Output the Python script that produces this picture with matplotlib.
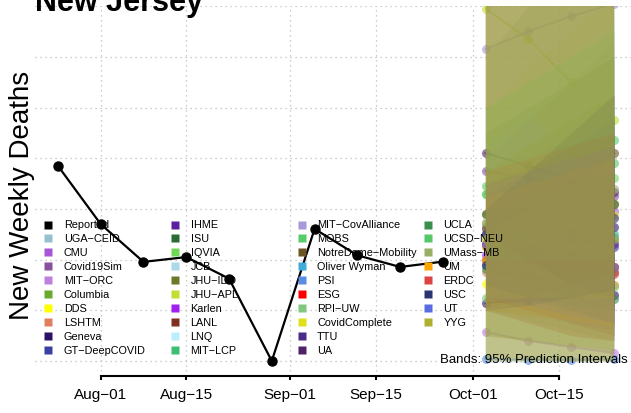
import matplotlib
matplotlib.use('Agg')
import matplotlib.pyplot as plt
import matplotlib.dates as mdates
from matplotlib.lines import Line2D
import numpy as np
import datetime as dt

plt.rcParams['font.family'] = ['Liberation Sans', 'DejaVu Sans']

# ---------------- data ----------------
reported_dates = ['2020-07-25', '2020-08-01', '2020-08-08', '2020-08-15', '2020-08-22',
                  '2020-08-29', '2020-09-05', '2020-09-12', '2020-09-19', '2020-09-26']
reported_vals = [97.0, 74.0, 59.1, 61.0, 52.5, 20.0, 72.1, 61.7, 57.1, 59.2]

forecast_dates = ['2020-10-03', '2020-10-10', '2020-10-17', '2020-10-24']

tick_dates = ['2020-08-01', '2020-08-15', '2020-09-01', '2020-09-15', '2020-10-01', '2020-10-15']
tick_labels = ['Aug\u221201', 'Aug\u221215', 'Sep\u221201', 'Sep\u221215', 'Oct\u221201', 'Oct\u221215']

legend_names = ['Reported', 'UGA\u2212CEID', 'CMU', 'Covid19Sim', 'MIT\u2212ORC', 'Columbia', 'DDS',
                'LSHTM', 'Geneva', 'GT\u2212DeepCOVID',
                'IHME', 'ISU', 'IQVIA', 'JCB', 'JHU\u2212IDD', 'JHU\u2212APL', 'Karlen', 'LANL', 'LNQ',
                'MIT\u2212LCP',
                'MIT\u2212CovAlliance', 'MOBS', 'NotreDame\u2212Mobility', 'Oliver Wyman', 'PSI', 'ESG',
                'RPI\u2212UW', 'CovidComplete', 'TTU', 'UA',
                'UCLA', 'UCSD\u2212NEU', 'UMass\u2212MB', 'UM', 'ERDC', 'USC', 'UT', 'YYG']
legend_colors = ['#000000', '#96c0d0', '#a855d8', '#8a50a0', '#c080e0', '#6aaa30', '#ffff00',
                 '#e08060', '#2a1066', '#3a40a0',
                 '#5a20a0', '#2a6a34', '#70d855', '#add8e6', '#6b7a28', '#c0e030', '#a020f0',
                 '#80301e', '#bbeeff', '#3cbf72',
                 '#aa98dd', '#58cc66', '#6b5520', '#40aad8', '#5a8ee0', '#ff0000', '#80c880',
                 '#e0e018', '#4a2a88', '#50206a',
                 '#3a8f4a', '#55c766', '#9aaf66', '#ffa500', '#dc4444', '#2a3470', '#5a6ae0',
                 '#b0b030']

# forecast medians / 95% lower / 95% upper (one list per model, 4 weekly values)
fc_median = {
    'UGA\u2212CEID': [66, 66, 67, 67],
    'CMU': [73, 75, 77, 79],
    'Covid19Sim': [95, 92, 89, 85],
    'MIT\u2212ORC': [31.4, 28, 25.5, 23.2],
    'Columbia': [74, 72, 70, 68],
    'DDS': [50.4, 49, 48, 50],
    'LSHTM': [55, 53, 52, 50],
    'Geneva': [43, 44, 45, 46],
    'GT\u2212DeepCOVID': [58, 60, 62, 65],
    'IHME': [70, 69, 68, 66],
    'ISU': [78, 77, 80, 82],
    'IQVIA': [86, 88, 90, 92],
    'JCB': [70, 71, 72, 73],
    'JHU\u2212IDD': [78, 80, 82, 82],
    'JHU\u2212APL': [159, 147, 130, 115],
    'Karlen': [62, 60, 58, 57],
    'LANL': [60, 58, 56, 55],
    'MIT\u2212LCP': [70, 70, 70, 70],
    'MIT\u2212CovAlliance': [143, 150, 156, 161],
    'MOBS': [89, 95.7, 102, 107],
    'NotreDame\u2212Mobility': [72, 80, 91, 102],
    'Oliver Wyman': [66, 67, 68, 69],
    'PSI': [20.8, 20.5, 20.5, 20.8],
    'ESG': [66, 62, 59, 57],
    'RPI\u2212UW': [45, 47, 48, 49],
    'CovidComplete': [65, 67, 70.5, 77.5],
    'TTU': [70, 71, 72, 73],
    'UA': [102, 97, 91, 86.7],
    'UCLA': [56.3, 53, 49, 44.5],
    'UCSD\u2212NEU': [86, 89, 93, 98],
    'UMass\u2212MB': [75, 78, 84, 88],
    'UM': [60, 59, 58, 57],
    'ERDC': [65.4, 63, 60, 54.3],
    'USC': [57.9, 63.8, 70.5, 76.4],
    'UT': [66, 65.4, 61, 57],
    'YYG': [68, 68.5, 69, 68],
}
fc_lower = {
    'UGA\u2212CEID': [45, 40, 35, 30], 'CMU': [50, 45, 40, 35], 'Covid19Sim': [60, 50, 45, 40],
    'MIT\u2212ORC': [22, 21, 20.5, 20], 'Columbia': [45, 40, 35, 30], 'DDS': [30, 28, 26, 25],
    'LSHTM': [30, 28, 26, 24], 'Geneva': [30, 28, 26, 24], 'GT\u2212DeepCOVID': [40, 38, 36, 34],
    'IHME': [55, 50, 45, 40], 'ISU': [55, 50, 45, 40], 'IQVIA': [60, 55, 50, 45],
    'JCB': [45, 40, 35, 30], 'JHU\u2212IDD': [50, 45, 42, 40], 'JHU\u2212APL': [105, 118, 100, 85],
    'Karlen': [45, 40, 35, 32], 'LANL': [40, 35, 30, 28], 'MIT\u2212LCP': [50, 45, 40, 35],
    'MIT\u2212CovAlliance': [95, 100, 105, 110], 'MOBS': [65, 68, 72, 75],
    'NotreDame\u2212Mobility': [40, 45, 50, 55], 'Oliver Wyman': [50, 45, 42, 40],
    'PSI': [19.5, 19.5, 19.5, 19.5], 'ESG': [45, 40, 35, 30], 'RPI\u2212UW': [30, 28, 26, 24],
    'CovidComplete': [45, 45, 45, 45], 'TTU': [50, 45, 40, 35], 'UA': [70, 60, 50, 45],
    'UCLA': [40, 36, 32, 28], 'UCSD\u2212NEU': [60, 60, 60, 60], 'UMass\u2212MB': [22, 20.5, 20, 20],
    'UM': [40, 38, 36, 34], 'ERDC': [40, 35, 30, 28], 'USC': [40, 42, 45, 48],
    'UT': [45, 42, 38, 35], 'YYG': [20, 19.8, 19.8, 19.8],
}
fc_upper = {
    'UGA\u2212CEID': [90, 100, 110, 120], 'CMU': [100, 115, 130, 145], 'Covid19Sim': [170, 185, 200, 210],
    'MIT\u2212ORC': [45, 45, 45, 45], 'Columbia': [110, 120, 130, 140], 'DDS': [80, 90, 100, 110],
    'LSHTM': [90, 100, 110, 120], 'Geneva': [60, 65, 70, 75], 'GT\u2212DeepCOVID': [85, 95, 105, 115],
    'IHME': [90, 95, 100, 105], 'ISU': [110, 120, 130, 140], 'IQVIA': [120, 135, 150, 165],
    'JCB': [110, 125, 140, 155], 'JHU\u2212IDD': [140, 160, 180, 200], 'JHU\u2212APL': [220, 220, 210, 200],
    'Karlen': [85, 90, 95, 100], 'LANL': [85, 95, 105, 115], 'MIT\u2212LCP': [95, 105, 115, 125],
    'MIT\u2212CovAlliance': [200, 210, 220, 230], 'MOBS': [120, 130, 140, 150],
    'NotreDame\u2212Mobility': [170, 200, 230, 260], 'Oliver Wyman': [85, 95, 105, 115],
    'PSI': [40, 45, 50, 55], 'ESG': [90, 95, 100, 105], 'RPI\u2212UW': [70, 80, 90, 100],
    'CovidComplete': [95, 105, 115, 125], 'TTU': [95, 105, 115, 125], 'UA': [170, 180, 190, 200],
    'UCLA': [80, 85, 90, 95], 'UCSD\u2212NEU': [120, 130, 140, 150], 'UMass\u2212MB': [180, 200, 220, 240],
    'UM': [85, 90, 95, 100], 'ERDC': [95, 100, 105, 110], 'USC': [80, 95, 110, 125],
    'UT': [90, 95, 100, 105], 'YYG': [200, 220, 240, 260],
}

grid_vals = [20, 40, 60, 80, 100, 120, 140, 160]

# ---------------- figure ----------------
W, H = 631, 414
fig = plt.figure(figsize=(W / 100, H / 100), dpi=100)
ax = fig.add_axes([35 / W, (H - 377) / H, 601 / W, 370 / H])

d = lambda s: mdates.date2num(dt.datetime.strptime(s, '%Y-%m-%d'))
rx = [d(s) for s in reported_dates]
fx = [d(s) for s in forecast_dates]
aug1 = d('2020-08-01')
ax.set_xlim(aug1 - 10.75, aug1 + 87.6)
ax.set_ylim(14.08, 160.05)

color_of = dict(zip(legend_names, legend_colors))

# medians (drawn under the bands)
for name, med in fc_median.items():
    c = color_of[name]
    ax.plot(fx, med, color=c, lw=1.6, alpha=0.6, zorder=2)
    ax.plot(fx, med, 'o', color=c, ms=6.5, alpha=0.6, mec='none', zorder=2)

# bands
for name in fc_median:
    c = color_of[name]
    a = 0.14
    if name in ('JHU\u2212APL', 'CovidComplete'):
        a = 0.2
    if name == 'UMass\u2212MB':
        a = 0.28
    if name == 'YYG':
        a = 0.42
    ax.fill_between(fx, fc_lower[name], fc_upper[name], color=c, alpha=a, lw=0, zorder=3)

# reported
ax.plot(rx, reported_vals, color='black', lw=1.6, zorder=4)
ax.plot(rx, reported_vals, 'o', color='black', ms=6.5, zorder=4)

# axes styling
for s in ['top', 'right', 'left']:
    ax.spines[s].set_visible(False)
ax.spines['bottom'].set_bounds(d(tick_dates[0]), d(tick_dates[-1]))
ax.spines['bottom'].set_linewidth(1.5)
ax.set_xticks([d(s) for s in tick_dates])
ax.set_xticklabels(tick_labels)
ax.tick_params(axis='x', direction='out', length=3, width=1.5, labelsize=11, pad=5)
ax.set_yticks(grid_vals)
ax.tick_params(axis='y', length=0, labelleft=False)
ax.grid(True, color='#bdbdbd', linestyle=(0, (1, 3)), linewidth=0.9)
ax.set_axisbelow(True)

# title and y label
fig.text(35 / W, 1 - 11 / H, 'New Jersey', fontsize=22, fontweight='bold',
         ha='left', va='baseline')
fig.text(22 / W, 1 - 195 / H, 'New Weekly Deaths', fontsize=20, rotation=90,
         ha='center', va='center')

# legend (R style, equal column widths)
col_x = [48.5, 175.0, 301.5, 428.0]
row0, row_step = 225.5, 13.97
for i, (name, c) in enumerate(zip(legend_names, legend_colors)):
    col, row = divmod(i, 10)
    xs = col_x[col]
    ys = row0 + row * row_step
    fig.add_artist(Line2D([xs / W], [1 - ys / H], marker='s', color=c, ms=5.8,
                          linestyle='none', mec='none', transform=fig.transFigure, zorder=5))
    fig.text((xs + 15.5) / W, 1 - ys / H, name, fontsize=7.8, ha='left', va='center', zorder=5)

fig.text(628 / W, 1 - 360 / H, 'Bands: 95% Prediction Intervals', fontsize=9.5,
         ha='right', va='center', zorder=6)

fig.savefig('out.png', dpi=100)
